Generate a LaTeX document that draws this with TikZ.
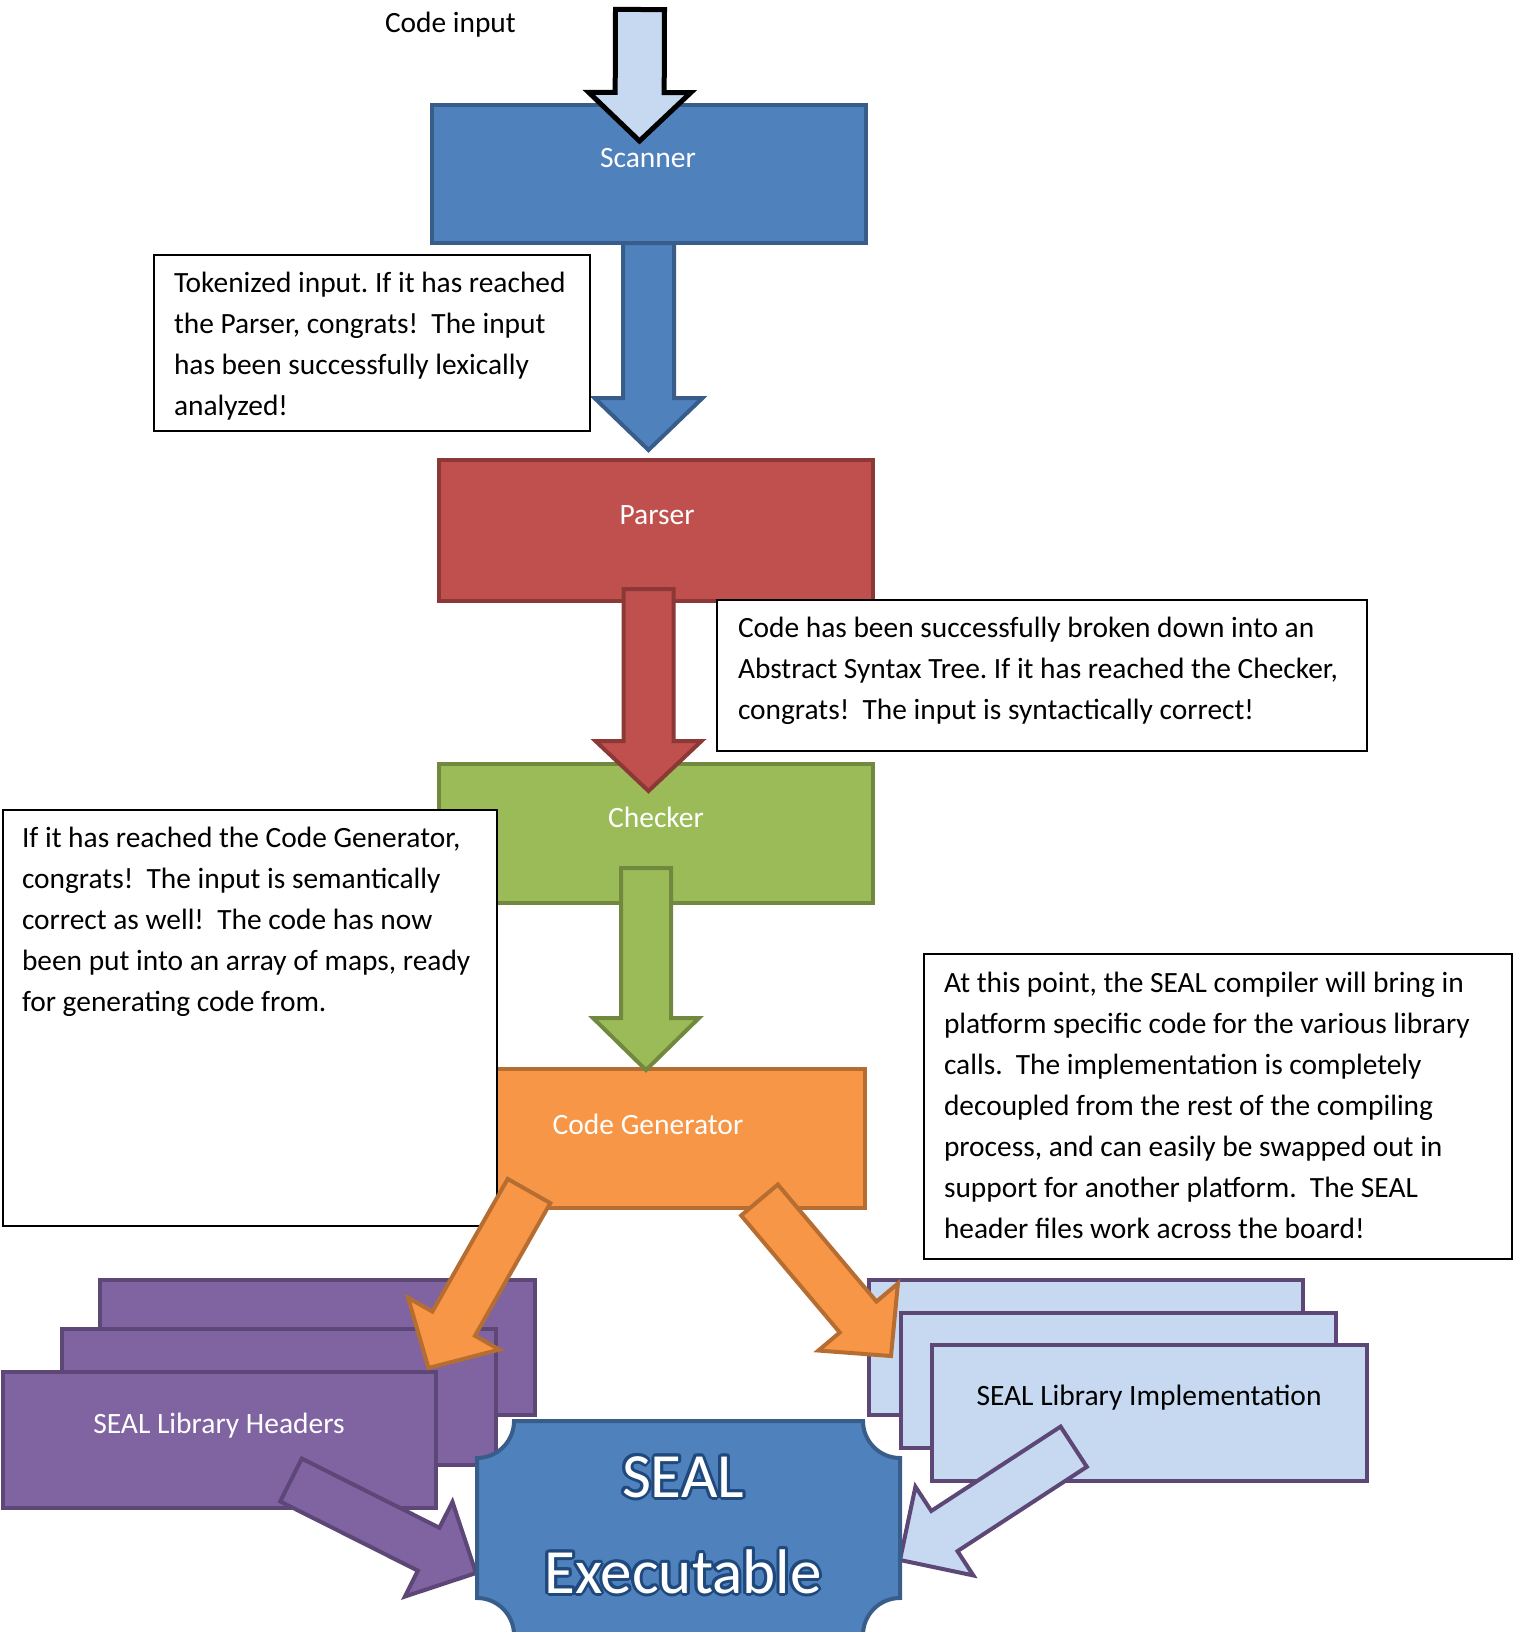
\documentclass[tikz,border=0pt]{standalone}
\usepackage{fontspec}
\setmainfont{Carlito}
\usetikzlibrary{calc}
\definecolor{blueF}{HTML}{4F81BD}
\definecolor{blueD}{HTML}{385D8A}
\definecolor{redF}{HTML}{C0504D}
\definecolor{redD}{HTML}{8C3836}
\definecolor{greenF}{HTML}{9BBB59}
\definecolor{greenD}{HTML}{71893F}
\definecolor{orangeF}{HTML}{F79646}
\definecolor{orangeD}{HTML}{B66D31}
\definecolor{purpleF}{HTML}{8064A2}
\definecolor{purpleD}{HTML}{5C4776}
\definecolor{ltblueF}{HTML}{C6D9F1}
\definecolor{glowD}{HTML}{1F497D}
\newcommand\fatarrow[6]{%
  \coordinate (fab) at ($(#3)!#6!(#2)$);
  \draw[#1] ($(#2)!#4!90:(#3)$) -- ($(fab)!#4!90:(#3)$) -- ($(fab)!#5!90:(#3)$) -- (#3)
    -- ($(fab)!#5!-90:(#3)$) -- ($(fab)!#4!-90:(#3)$) -- ($(#2)!#4!-90:(#3)$) -- cycle;}
\newcommand\boxat[6]{%
  \node[#2, minimum width={#5-#3}, minimum height={#6-#4}] (#1) at (#3,#4) {};}
\newcommand\glowtext[3]{%
  \foreach \a in {0,30,...,330} {\node[exectext, text=glowD] (#1-\a) at ($(#2)+(\a:3)$) {#3};}
  \node[exectext, text=white] (#1) at (#2) {#3};}
\begin{document}
\begin{tikzpicture}[x=1pt,y=-1pt,
  procbox/.style={draw, line width=4pt, inner sep=0pt, outer sep=0pt, anchor=north west},
  stackbox/.style={draw=purpleD, line width=4pt, inner sep=0pt, outer sep=0pt, anchor=north west},
  notebox/.style={draw=black, line width=2pt, fill=white, inner sep=0pt, outer sep=0pt, anchor=north west},
  notetext/.style={anchor=base west, inner sep=0pt, outer sep=0pt, font=\fontsize{29.4}{41}\selectfont, text=black},
  boxlabel/.style={inner sep=0pt, font=\fontsize{29.5}{35}\selectfont, text=white},
  exectext/.style={inner sep=0pt, anchor=base, font=\fontsize{63}{72}\selectfont},
  blockarrow/.style={line width=4pt, line join=miter}]
\useasboundingbox (0,0) rectangle (1521,1632);
\clip (0,0) rectangle (1521,1632);

% Scanner and Parser boxes
\boxat{scanner}{procbox, fill=blueF, draw=blueD}{432}{105}{866}{243}
\boxat{parser}{procbox, fill=redF, draw=redD}{439}{460}{873}{601}
\node[notetext] (codeinput) at (385,33) {Code input};

% Scanner -> Parser
\coordinate (spT) at (648.5,243);
\coordinate (spH) at (648.5,450);
\fatarrow{blockarrow, fill=blueF, draw=blueD}{spT}{spH}{25.5pt}{54pt}{52pt}

% input arrow
\coordinate (inT) at (640,9.5);
\coordinate (inH) at (639.5,141);
\fatarrow{line width=5pt, line join=miter, fill=ltblueF, draw=black}{inT}{inH}{24.5pt}{51pt}{48.5pt}

\node[boxlabel] (scannerlbl) at (648,158) {Scanner};

% Tokenized note
\boxat{note1}{notebox}{154}{255}{590}{431}
\node[notetext] (note1txt) at (174,292) {\parbox[t]{560pt}{\frenchspacing Tokenized input. If it has reached\\the Parser, congrats!~ The input\\has been successfully lexically\\analyzed!}};

% Checker, red arrow
\boxat{checker}{procbox, fill=greenF, draw=greenD}{439}{764}{873}{903}
\coordinate (pcT) at (648.5,589);
\coordinate (pcH) at (648.5,791);
\fatarrow{blockarrow, fill=redF, draw=redD}{pcT}{pcH}{25pt}{53pt}{50pt}
\node[boxlabel] (parserlbl) at (657,515) {Parser};

% Code has been note
\boxat{note2}{notebox}{717}{600}{1367}{751}
\node[notetext] (note2txt) at (738,637) {\parbox[t]{640pt}{\frenchspacing Code has been successfully broken down into an\\Abstract Syntax Tree. If it has reached the Checker,\\congrats!~ The input is syntactically correct!}};

% Code generator, green arrow
\boxat{codegen}{procbox, fill=orangeF, draw=orangeD}{432}{1069}{865}{1208}
\coordinate (ccT) at (646,868);
\coordinate (ccH) at (646,1070);
\fatarrow{blockarrow, fill=greenF, draw=greenD}{ccT}{ccH}{25pt}{53pt}{52pt}
\node[boxlabel] (checkerlbl) at (656,817) {Checker};
\node[boxlabel] (codegenlbl) at (648,1124) {Code Generator};

% Left note
\boxat{note3}{notebox}{3}{810}{497}{1226}
\node[notetext] (note3txt) at (22,847) {\parbox[t]{480pt}{\frenchspacing If it has reached the Code Generator,\\congrats!~ The input is semantically\\correct as well!~ The code has now\\been put into an array of maps, ready\\for generating code from.}};

% Purple stack
\boxat{hdrback}{stackbox, fill=purpleF}{100}{1280}{535}{1415}
\boxat{hdrmid}{stackbox, fill=purpleF}{62}{1329}{496}{1465}
\boxat{hdrfront}{stackbox, fill=purpleF}{3}{1372}{436}{1508}
\node[boxlabel] (hdrlbl) at (219,1426) {SEAL Library Headers};

% Light blue stack
\boxat{impback}{stackbox, fill=ltblueF}{869}{1280}{1303}{1415}
\boxat{impmid}{stackbox, fill=ltblueF}{901}{1313}{1336}{1448}
\boxat{impfront}{stackbox, fill=ltblueF}{932}{1345}{1367}{1481}
\node[boxlabel, text=black] (implbl) at (1149,1398) {SEAL Library Implementation};

% Orange arrows
\coordinate (ohT) at (529,1191);
\coordinate (ohH) at (428.5,1368);
\fatarrow{blockarrow, fill=orangeF, draw=orangeD}{ohT}{ohH}{24.5pt}{52.5pt}{51pt}
\coordinate (oiT) at (759.5,1200);
\coordinate (oiH) at (891,1356);
\fatarrow{blockarrow, fill=orangeF, draw=orangeD}{oiT}{oiH}{24pt}{52pt}{51pt}

% Right note
\boxat{note4}{notebox}{924}{954}{1512}{1259}
\node[notetext] (note4txt) at (944,992) {\parbox[t]{560pt}{\frenchspacing At this point, the SEAL compiler will bring in\\platform specific code for the various library\\calls.~ The implementation is completely\\decoupled from the rest of the compiling\\process, and can easily be swapped out in\\support for another platform.~ The SEAL\\header files work across the board!}};

% Purple and light blue arrows into the executable
\coordinate (peT) at (291,1480);
\coordinate (peH) at (476,1573);
\fatarrow{blockarrow, fill=purpleF, draw=purpleD}{peT}{peH}{24pt}{53pt}{53pt}
\coordinate (ieT) at (1073.7,1446.7);
\coordinate (ieH) at (900,1560);
\fatarrow{blockarrow, fill=ltblueF, draw=purpleD}{ieT}{ieH}{24pt}{53pt}{53pt}

% SEAL Executable plaque
\path[draw=blueD, fill=blueF, line width=4pt]
  (514,1421) -- (863,1421) .. controls (863,1441.4) and (879.6,1458) .. (900,1458)
  -- (900,1598) .. controls (879.6,1598) and (863,1614.6) .. (863,1635)
  -- (514,1635) .. controls (514,1614.6) and (497.4,1598) .. (477,1598)
  -- (477,1458) .. controls (497.4,1458) and (514,1441.4) .. (514,1421) -- cycle;
\coordinate (execA) at (683,1497);
\coordinate (execB) at (683,1593);
\glowtext{execl1}{execA}{SEAL}
\glowtext{execl2}{execB}{Executable}
\end{tikzpicture}
\end{document}
